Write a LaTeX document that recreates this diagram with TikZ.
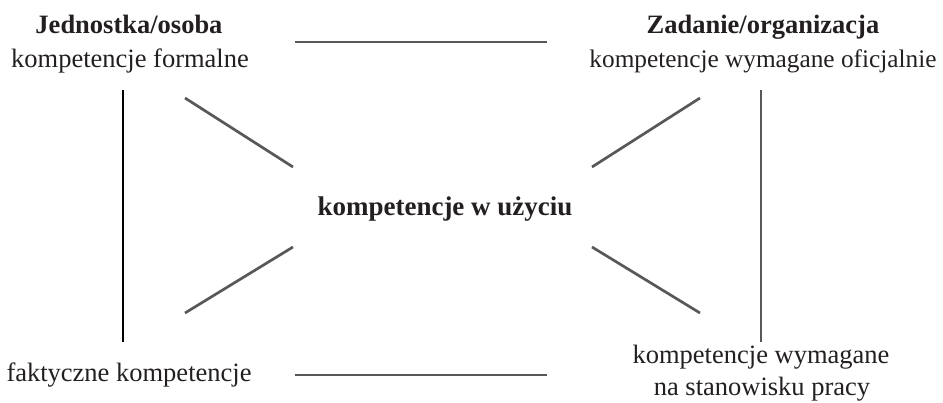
\documentclass[tikz,border=0pt]{standalone}
\usepackage{fontspec}
\setmainfont{Liberation Serif}
\definecolor{inkdark}{HTML}{231F20}
\definecolor{linkgray}{HTML}{585858}
\begin{document}
\begin{tikzpicture}[x=1pt,y=-1pt,
  lbl/.style={anchor=base,inner sep=0pt,text=inkdark,font=\fontsize{26.5}{33}\selectfont},
  lblnarrow/.style={lbl,font=\fontsize{25.3}{33}\selectfont},
  ttl/.style={lbl,font=\fontsize{26.5}{33}\selectfont\bfseries},
  hub/.style={lbl,font=\fontsize{27}{33}\selectfont\bfseries},
  link/.style={line width=2.7pt,draw=linkgray},
  axis/.style={line width=2.7pt,draw=black}]
\useasboundingbox (0,0) rectangle (943,402);

% corner labels
\node[ttl] (indT) at (129,33) {Jednostka/osoba};
\node[lbl] (indS) at (130,67) {kompetencje formalne};
\node[ttl] (orgT) at (763,33) {Zadanie/organizacja};
\node[lblnarrow] (orgS) at (763,67) {kompetencje wymagane oficjalnie};
\node[lbl] (fact) at (129,381) {faktyczne kompetencje};
\node[lbl] (jobA) at (761,363) {kompetencje wymagane};
\node[lbl] (jobB) at (762,395) {na stanowisku pracy};
\node[hub] (use) at (445,215) {kompetencje w użyciu};

% end points of the connecting strokes
\coordinate (tl) at (295,42);  \coordinate (tr) at (547,42);
\coordinate (bl) at (295,375); \coordinate (br) at (547,375);
\coordinate (lt) at (123,90);  \coordinate (lb) at (123,342);
\coordinate (rt) at (761,90);  \coordinate (rb) at (761,342);
\coordinate (d1a) at (185,98);  \coordinate (d1b) at (293,167);
\coordinate (d2a) at (700,98);  \coordinate (d2b) at (592,167);
\coordinate (d3a) at (185,313); \coordinate (d3b) at (293,247);
\coordinate (d4a) at (700,313); \coordinate (d4b) at (592,247);

\draw[link] (tl) -- (tr);
\draw[link] (bl) -- (br);
\draw[axis] (lt) -- (lb);
\draw[link] (rt) -- (rb);
\draw[link] (d1a) -- (d1b);
\draw[link] (d2a) -- (d2b);
\draw[link] (d3a) -- (d3b);
\draw[link] (d4a) -- (d4b);
\end{tikzpicture}
\end{document}
